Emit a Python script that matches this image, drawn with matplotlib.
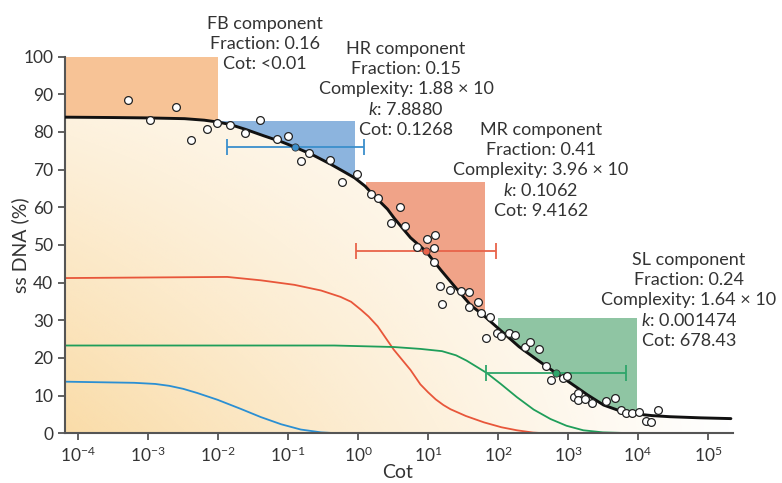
import numpy as np
import matplotlib
matplotlib.use("Agg")
import matplotlib.pyplot as plt
from matplotlib.patches import Polygon, Rectangle

plt.rcParams['font.family'] = ['Lato', 'DejaVu Sans']
plt.rcParams['mathtext.fontset'] = 'custom'
plt.rcParams['mathtext.rm'] = 'Lato'
plt.rcParams['mathtext.it'] = 'Lato:italic'

# ---- data (log10 Cot, ss DNA %) ----
fit_logcot = [-4.19, -3.5, -3.0, -2.48, -2.2, -2.0, -1.82, -1.6, -1.34, -1.1, -0.91, -0.65,
              -0.39, -0.2, -0.05, 0.1, 0.23, 0.42, 0.52, 0.75, 0.97, 1.18, 1.42, 1.61, 1.8,
              2.08, 2.3, 2.56, 2.82, 3.04, 3.28, 3.51, 3.75, 3.99, 4.2, 4.46, 4.9, 5.33]
fit_ssdna = [83.9, 83.8, 83.7, 83.5, 83.1, 82.6, 81.9, 80.6, 78.9, 77.4, 76.0, 73.9,
             71.4, 69.4, 67.8, 65.6, 63.0, 59.5, 57.0, 51.9, 48.3, 43.4, 38.1, 34.0, 31.2,
             26.6, 23.0, 19.5, 16.1, 13.3, 10.2, 7.5, 5.9, 5.1, 4.7, 4.4, 4.1, 3.9]

hr_logcot = [-4.19, -3.2, -2.9, -2.7, -2.5, -2.3, -2.01, -1.68, -1.39, -1.10, -0.82, -0.53, -0.29]
hr_ssdna = [13.7, 13.4, 13.1, 12.6, 11.8, 10.7, 8.9, 6.5, 4.3, 2.4, 1.0, 0.25, 0.0]

mr_logcot = [-4.19, -1.87, -1.39, -0.91, -0.53, -0.25, -0.1, 0.04, 0.15, 0.28, 0.51, 0.75,
             0.89, 1.0, 1.11, 1.22, 1.32, 1.54, 1.8, 2.05, 2.27, 2.5, 2.67]
mr_ssdna = [41.2, 41.5, 40.6, 39.4, 37.9, 36.2, 34.9, 32.8, 31.0, 28.4, 22.2, 16.8,
            13.0, 10.9, 9.0, 7.5, 6.4, 4.6, 2.9, 1.6, 0.8, 0.2, 0.0]

sl_logcot = [-4.19, -0.34, 0.51, 0.89, 1.2, 1.4, 1.55, 1.7, 1.84, 2.04, 2.27, 2.51, 2.75,
             2.98, 3.22, 3.5, 3.96]
sl_ssdna = [23.3, 23.3, 22.9, 22.4, 21.8, 20.7, 19.3, 17.6, 16.0, 13.1, 9.6, 6.3, 3.8,
            2.0, 0.8, 0.25, 0.0]

obs_logcot = [-3.29, -2.6, -2.98, -2.39, -2.16, -2.02, -1.83, -1.61, -1.40, -1.16, -1.0,
              -0.70, -0.82, -0.40, -0.23, -0.01, 0.18, 0.29, 0.6, 0.47, 0.67, 1.1, 0.98,
              0.84, 1.08, 1.08, 1.17, 1.31, 1.47, 1.59, 1.2, 1.59, 1.72, 1.76, 1.89, 1.99,
              2.05, 1.83, 2.16, 2.24, 2.39, 2.46, 2.58, 2.69, 2.76, 2.93, 2.98, 3.08, 3.15,
              3.15, 3.24, 3.35, 3.54, 3.68, 3.76, 3.83, 3.92, 4.02, 4.12, 4.19, 4.29]
obs_ssdna = [88.5, 86.7, 83.1, 77.8, 80.8, 82.4, 81.8, 79.7, 83.1, 78.2, 79.0,
             74.5, 72.3, 72.6, 66.7, 68.9, 63.6, 62.5, 60.1, 55.9, 55.1, 52.7, 51.6,
             49.4, 49.2, 45.5, 39.2, 38.1, 37.7, 37.4, 34.3, 33.5, 34.8, 32.0, 30.8, 26.7,
             25.8, 25.2, 26.5, 26.1, 22.8, 24.2, 22.4, 17.9, 14.2, 14.6, 15.3, 9.6, 10.6,
             8.9, 9.1, 8.1, 8.6, 9.5, 6.2, 5.5, 5.3, 5.7, 3.3, 3.1, 6.2]

# component summary: shaded box (log x range, top), error bar (center, half-width, y)
comp_names = ['FB', 'HR', 'MR', 'SL']
box_left = [-4.19, -2.0, 0.11, 2.0]
box_right = [-2.0, -0.05, 1.81, 3.99]
box_top = [100, 82.9, 66.8, 30.7]
box_colors = ['#f7c396', '#8cb4de', '#f0a388', '#8fc5a3']
err_center = [-0.897, 0.974, 2.832]
err_half = [0.98, 1.0, 1.0]
err_y = [76.0, 48.4, 16.0]
err_colors = ['#3b8fcc', '#e8634a', '#2ea56a']

labels = [
    ("FB component\nFraction: 0.16\nCot: <0.01", 265, 22),
    ("HR component\nFraction: 0.15\nComplexity: 1.88 × 10\n$k$: 7.8880\nCot: 0.1268", 406, 47),
    ("MR component\nFraction: 0.41\nComplexity: 3.96 × 10\n$k$: 0.1062\nCot: 9.4162", 541, 128),
    ("SL component\nFraction: 0.24\nComplexity: 1.64 × 10\n$k$: 0.001474\nCot: 678.43", 689, 258),
]

W, H = 782, 483
fig = plt.figure(figsize=(W / 100, H / 100), dpi=100)
ax_l, ax_r, ax_t, ax_b = 65, 733, 56.5, 433.3
ax = fig.add_axes([ax_l / W, (H - ax_b) / H, (ax_r - ax_l) / W, (ax_b - ax_t) / H])

xmin, xmax = 10 ** -4.19, 10 ** 5.36
fx = 10 ** np.array(fit_logcot)
fy = np.array(fit_ssdna)

# gradient under curve
nx, ny = 300, 200
u = np.linspace(0, 1, nx)[None, :]
v = np.linspace(0, 1, ny)[:, None]
alpha = np.clip((1 - u) ** 1.1 * (1 - 0.75 * v), 0, 1)
img = np.zeros((ny, nx, 4))
img[..., 0] = 250 / 255
img[..., 1] = 220 / 255
img[..., 2] = 168 / 255
img[..., 3] = alpha
im = ax.imshow(img, extent=[0, 1, 0, 1], transform=ax.transAxes, origin='lower',
               aspect='auto', zorder=0, interpolation='bilinear')
under = Polygon(list(zip(fx, fy)) + [(xmax * 2, fy[-1]), (xmax * 2, 0), (xmin / 2, 0), (xmin / 2, fy[0])],
                closed=True, transform=ax.transData, facecolor='none', edgecolor='none')
ax.add_patch(under)
im.set_clip_path(under)

# region above curve for clipping boxes
above = Polygon(list(zip(fx, fy)) + [(xmax * 2, fy[-1]), (xmax * 2, 120), (xmin / 2, 120), (xmin / 2, fy[0])],
                closed=True, transform=ax.transData, facecolor='none', edgecolor='none')
ax.add_patch(above)
for l, r, t, c in zip(box_left, box_right, box_top, box_colors):
    rect = Rectangle((10 ** l, 0), 10 ** r - 10 ** l, t, facecolor=c, edgecolor='none', zorder=1)
    ax.add_patch(rect)
    rect.set_clip_path(above)

# component curves
ax.plot(10 ** np.array(hr_logcot), hr_ssdna, color='#2b8fd3', lw=1.3, zorder=2)
ax.plot(10 ** np.array(mr_logcot), mr_ssdna, color='#e8563a', lw=1.3, zorder=2)
ax.plot(10 ** np.array(sl_logcot), sl_ssdna, color='#1f9e5a', lw=1.3, zorder=2)

# error bars
for cc, hw, yy, col in zip(err_center, err_half, err_y, err_colors):
    ax.errorbar([10 ** cc], [yy], xerr=[[10 ** cc - 10 ** (cc - hw)], [10 ** (cc + hw) - 10 ** cc]],
                fmt='none', ecolor=col, elinewidth=1.3, capsize=6, capthick=1.3, zorder=3)

# fit curve
ax.plot(fx, fy, color='#111111', lw=2.1, zorder=4, solid_capstyle='round')

# observations
ax.plot(10 ** np.array(obs_logcot), obs_ssdna, 'o', ms=5.6, mfc='white', mec='#222222', mew=0.9, zorder=5)

# centre markers
for cc, yy, col in zip(err_center, err_y, err_colors):
    ax.plot([10 ** cc], [yy], 'o', ms=5.2, mfc=col, mec='#333333', mew=0.6, zorder=6)

ax.set_xscale('log')
ax.set_xlim(xmin, xmax)
ax.set_ylim(0, 100)
ax.set_xticks([10.0 ** k for k in range(-4, 6)])
ax.xaxis.set_minor_locator(matplotlib.ticker.NullLocator())
ax.set_xticklabels([f'$10^{{{k}}}$' for k in range(-4, 6)])
ax.set_yticks(range(0, 101, 10))
for s in ['top', 'right']:
    ax.spines[s].set_visible(False)
for s in ['left', 'bottom']:
    ax.spines[s].set_color('#555555')
    ax.spines[s].set_linewidth(1.5)
ax.tick_params(axis='both', colors='#555555', width=1.3, length=5, labelsize=12.5, labelcolor='#333333')
ax.tick_params(axis='x', pad=4)
ax.patch.set_alpha(0)

fig.text(20 / W, 1 - 245 / H, 'ss DNA (%)', rotation=90, ha='center', va='center', fontsize=14, color='#333333')
fig.text(398 / W, 1 - 473 / H, 'Cot', ha='center', va='center', fontsize=14, color='#333333')

for txt, x, y in labels:
    fig.text(x / W, 1 - (y - 6) / H, txt, ha='center', va='top', fontsize=13, color='#333333',
             linespacing=1.3)

fig.savefig('out.png', dpi=100)
